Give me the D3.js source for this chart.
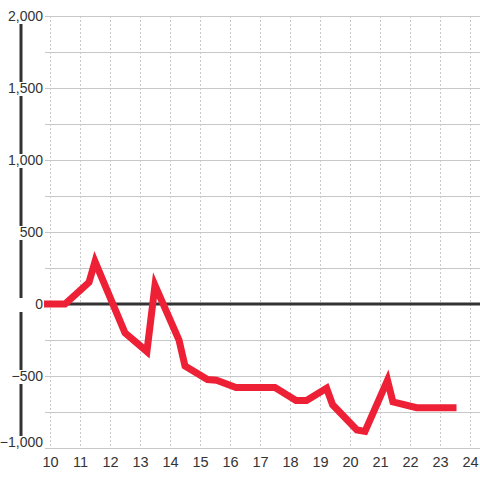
<!DOCTYPE html>
<html><head><meta charset="utf-8">
<script src="https://cdn.jsdelivr.net/npm/d3@7"></script>
<style>body{margin:0;background:#fff}svg{display:block}</style>
</head><body>
<svg id="c" width="480" height="480"></svg>
<script>
const xValues = [9, 10.5, 11.3, 11.5, 12.5, 13.23, 13.5, 14.3, 14.5, 15.25, 15.55, 16.2, 17.5, 18.2, 18.55, 19.22, 19.42, 20.23, 20.5, 21.25, 21.43, 22.22, 23.55];
const yValues = [0, 0, 150, 295, -200, -330, 130, -250, -430, -525, -530, -580, -580, -670, -670, -585, -700, -875, -885, -530, -680, -720, -720];
const yTicks = [-1000, -500, 0, 500, 1000, 1500, 2000];
const yGrid = [-1000, -750, -500, -250, 250, 500, 750, 1000, 1250, 1500, 1750, 2000];
const xTicks = [10, 11, 12, 13, 14, 15, 16, 17, 18, 19, 20, 21, 22, 23, 24];

const svg = d3.select('#c');
const x = d3.scaleLinear().domain([9, 24]).range([20, 470]);
const y = d3.scaleLinear().domain([-1000, 2000]).range([448, 16]);
const font = "'Liberation Sans', Arial, sans-serif";

// vertical dashed grid
svg.append('g').selectAll('line').data(xTicks).join('line')
  .attr('x1', d => x(d) + 0.5).attr('x2', d => x(d) + 0.5)
  .attr('y1', y(2000)).attr('y2', y(-1000))
  .attr('stroke', '#c8c8c8').attr('stroke-width', 1).attr('stroke-dasharray', '2,2');

// horizontal grid
svg.append('g').selectAll('line').data(yGrid).join('line')
  .attr('x1', 45).attr('x2', 480)
  .attr('y1', d => y(d) + 0.5).attr('y2', d => y(d) + 0.5)
  .attr('stroke', '#c8c8c8').attr('stroke-width', 1);

// y axis line
svg.append('line').attr('x1', 21).attr('x2', 21).attr('y1', y(2000)).attr('y2', y(-1000))
  .attr('stroke', '#333').attr('stroke-width', 3);
// zero line
svg.append('line').attr('x1', 20).attr('x2', 480).attr('y1', y(0)).attr('y2', y(0))
  .attr('stroke', '#333').attr('stroke-width', 3);

// data line
const line = d3.line().x((d, i) => x(xValues[i])).y(d => y(d));
svg.append('path').datum(yValues).attr('d', line)
  .attr('fill', 'none').attr('stroke', '#ee2036').attr('stroke-width', 7)
  .attr('stroke-linejoin', 'miter').attr('stroke-miterlimit', 10).attr('stroke-linecap', 'butt');

// y labels with white background
const yl = svg.append('g').selectAll('g').data(yTicks).join('g')
  .attr('transform', d => `translate(0,${y(d) + (d === -1000 ? -6 : 0)})`);
yl.append('rect').attr('x', 4).attr('y', -6).attr('width', 40).attr('height', 14).attr('fill', '#fff');
yl.append('text').attr('x', 43).attr('y', 5).attr('text-anchor', 'end')
  .attr('font-family', font).attr('font-size', 14).attr('fill', '#333')
  .text(d => d3.format(',')(d));

// x labels
svg.append('g').selectAll('text').data(xTicks).join('text')
  .attr('x', d => x(d) + 0.5).attr('y', 467).attr('text-anchor', 'middle')
  .attr('font-family', font).attr('font-size', 14.5).attr('fill', '#333')
  .text(d => d);
</script>
</body></html>
